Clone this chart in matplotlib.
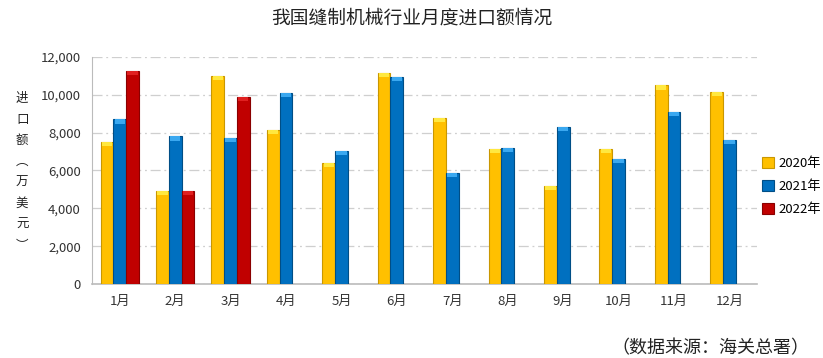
import matplotlib
matplotlib.use("Agg")
import matplotlib.pyplot as plt
import numpy as np

plt.rcParams['font.family'] = ['Noto Sans CJK SC', 'DejaVu Sans']

months = ["1月", "2月", "3月", "4月", "5月", "6月", "7月", "8月", "9月", "10月", "11月", "12月"]
v2020 = [7500, 4900, 11000, 8150, 6400, 11150, 8780, 7120, 5200, 7120, 10500, 10170]
v2021 = [8700, 7800, 7700, 10120, 7050, 10930, 5850, 7210, 8290, 6590, 9110, 7600]
v2022 = [11250, 4900, 9900]
series_names = ["2020年", "2021年", "2022年"]
colors = ["#FFC000", "#0070C0", "#C00000"]
caps = ["#FFE840", "#3AA8F0", "#E02020"]
edges = ["#C99700", "#004E86", "#8A0000"]
yticks = [0, 2000, 4000, 6000, 8000, 10000, 12000]

fig = plt.figure(figsize=(8.23, 3.58), dpi=100)
ax = fig.add_axes([0.1118, 0.2067, 0.8082, 0.6341])

x = np.arange(len(months))
w = 0.23
cap_h = 220
for i, (vals, c, cc, e, name) in enumerate(zip([v2020, v2021, v2022], colors, caps, edges, series_names)):
    xi = np.arange(len(vals)) + (i - 1) * w
    vals = np.array(vals, dtype=float)
    ax.bar(xi, vals, width=w, color=c, edgecolor=e, linewidth=0.8, label=name, zorder=3)
    ax.bar(xi, np.full_like(vals, cap_h), bottom=vals - cap_h, width=w * 0.8, color=cc,
           linewidth=0, zorder=4)

ax.set_xlim(-0.5, len(months) - 0.5)
ax.set_ylim(0, 12000)
ax.set_yticks(yticks)
ax.set_yticklabels([f"{t:,}" for t in yticks], fontsize=9.5, color="#333333")
ax.set_xticks(x)
ax.set_xticklabels(months, fontsize=9.5, color="#333333")
ax.tick_params(axis='both', length=0, pad=8)
ax.grid(axis='y', color="#CFCFCF", linestyle=(0, (8, 3, 1.5, 3)), linewidth=0.9, zorder=0)
for s in ["top", "right"]:
    ax.spines[s].set_visible(False)
ax.spines["left"].set_color("#BBBBBB")
ax.spines["bottom"].set_color("#BBBBBB")
ax.spines["bottom"].set_linewidth(1.2)

fig.text(0.5, 0.95, "我国缝制机械行业月度进口额情况", ha="center", va="center", fontsize=13.5, color="#222222")
fig.text(0.027, 0.52, "进\n口\n额\n︵\n万\n美\n元\n︶", ha="center", va="center", fontsize=9,
         linespacing=1.8, color="#222222")
fig.text(0.983, 0.028, "（数据来源：海关总署）", ha="right", va="center", fontsize=13, color="#222222")

fig.legend(loc="center left", bbox_to_anchor=(0.912, 0.48), frameon=False, fontsize=9.5,
           handlelength=0.9, handleheight=0.9, handletextpad=0.3, labelspacing=0.75)

fig.savefig("out.png", dpi=100)
